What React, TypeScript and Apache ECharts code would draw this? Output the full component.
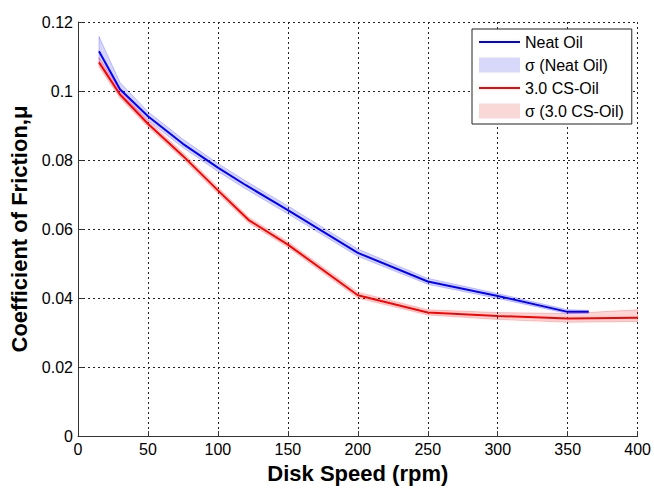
import React, { useEffect, useRef } from "react";
import * as echarts from "echarts";

// Disk speed (rpm) sample points
const neatX = [15, 30, 50, 75, 100, 120, 150, 200, 250, 300, 350, 365];
const neatMu = [0.1115, 0.1005, 0.0927, 0.0847, 0.0778, 0.0727, 0.0655, 0.0531, 0.0448, 0.0406, 0.036, 0.036];
const neatLo = [0.1085, 0.0992, 0.0915, 0.0836, 0.0767, 0.0716, 0.0644, 0.0521, 0.044, 0.0399, 0.0355, 0.0356];
const neatHi = [0.1158, 0.1025, 0.094, 0.086, 0.079, 0.0739, 0.0667, 0.0542, 0.0457, 0.0413, 0.0366, 0.0364];

const csX = [15, 30, 50, 75, 100, 122, 150, 200, 250, 300, 350, 400];
const csMu = [0.1083, 0.099, 0.0905, 0.0812, 0.0712, 0.0626, 0.0555, 0.0408, 0.0358, 0.0348, 0.0341, 0.0343];
const csLo = [0.107, 0.098, 0.0896, 0.0803, 0.0703, 0.0618, 0.0547, 0.04, 0.0351, 0.0338, 0.033, 0.0332];
const csHi = [0.1098, 0.1001, 0.0914, 0.0821, 0.0721, 0.0634, 0.0563, 0.0417, 0.0366, 0.0358, 0.0355, 0.0366];

const legendNames = ["Neat Oil", "σ (Neat Oil)", "3.0 CS-Oil", "σ (3.0 CS-Oil)"];

const FONT = "'Liberation Sans', Arial, sans-serif";
const LINE_ICON = "path://M0,0H41V2H0Z";

const pairs = (xs: number[], ys: number[]) => xs.map((x, i) => [x, ys[i]]);
const triples = (xs: number[], lo: number[], hi: number[]) => xs.map((x, i) => [x, lo[i], hi[i]]);

function bandSeries(name: string, xs: number[], lo: number[], hi: number[], fill: string, stroke: string) {
  return {
    name,
    type: "custom",
    data: triples(xs, lo, hi),
    encode: { x: 0, y: [1, 2] },
    itemStyle: { color: fill },
    z: 1,
    renderItem: (params: any, api: any) => {
      if (params.dataIndex !== 0) return null;
      const upper = xs.map((x, i) => api.coord([x, hi[i]]));
      const lower = xs.map((x, i) => api.coord([x, lo[i]])).reverse();
      return {
        type: "polygon",
        shape: { points: upper.concat(lower) },
        style: { fill, stroke, lineWidth: 1 },
      };
    },
  };
}

export default function App() {
  const ref = useRef<HTMLDivElement>(null);
  useEffect(() => {
    if (!ref.current) return;
    const chart = echarts.init(ref.current, undefined, { renderer: "svg" });
    const gridLine = { show: true, lineStyle: { color: "#222", type: [2, 3] as any, width: 1 } };
    chart.setOption({
      animation: false,
      backgroundColor: "#fff",
      grid: { left: 78, right: 16, top: 22, bottom: 46, containLabel: false },
      legend: {
        orient: "vertical",
        left: 472,
        top: 29,
        padding: [5, 8, 5, 7],
        itemWidth: 41,
        itemHeight: 15,
        itemGap: 7,
        backgroundColor: "#fff",
        borderColor: "#222",
        borderWidth: 1,
        borderRadius: 0,
        textStyle: { fontFamily: FONT, fontSize: 16, color: "#000", lineHeight: 16 },
        data: [
          { name: legendNames[0], icon: LINE_ICON, itemStyle: { color: "#0000ff", borderWidth: 0 } },
          { name: legendNames[1], icon: "rect", itemStyle: { color: "#d8d8fb", borderWidth: 0 } },
          { name: legendNames[2], icon: LINE_ICON, itemStyle: { color: "#ff0000", borderWidth: 0 } },
          { name: legendNames[3], icon: "rect", itemStyle: { color: "#fbd8d8", borderWidth: 0 } },
        ],
      },
      xAxis: {
        type: "value",
        min: 0,
        max: 400,
        interval: 50,
        name: "Disk Speed (rpm)",
        nameLocation: "middle",
        nameGap: 22,
        nameTextStyle: { fontFamily: FONT, fontSize: 22, fontWeight: "bold", color: "#000" },
        axisLine: { show: true, lineStyle: { color: "#333", width: 1 } },
        axisTick: { show: true, inside: true, length: 5, lineStyle: { color: "#333" } },
        axisLabel: { fontFamily: FONT, fontSize: 16, color: "#000", margin: 5 },
        splitLine: gridLine,
      },
      yAxis: {
        type: "value",
        min: 0,
        max: 0.12,
        interval: 0.02,
        name: "Coefficient of Friction,μ",
        nameLocation: "middle",
        nameRotate: 90,
        nameGap: 47,
        nameTextStyle: { fontFamily: FONT, fontSize: 22, fontWeight: "bold", color: "#000" },
        axisLine: { show: true, lineStyle: { color: "#333", width: 1 } },
        axisTick: { show: true, inside: true, length: 5, lineStyle: { color: "#333" } },
        axisLabel: { fontFamily: FONT, fontSize: 16, color: "#000", margin: 5 },
        splitLine: gridLine,
      },
      series: [
        bandSeries(legendNames[1], neatX, neatLo, neatHi, "rgba(0,0,255,0.16)", "rgba(0,0,255,0.22)"),
        bandSeries(legendNames[3], csX, csLo, csHi, "rgba(255,0,0,0.16)", "rgba(255,0,0,0.22)"),
        {
          name: legendNames[0],
          type: "line",
          symbol: "none",
          data: pairs(neatX, neatMu),
          itemStyle: { color: "#0000ff" },
          lineStyle: { color: "#0000ff", width: 2 },
          z: 3,
        },
        {
          name: legendNames[2],
          type: "line",
          symbol: "none",
          data: pairs(csX, csMu),
          itemStyle: { color: "#ff0000" },
          lineStyle: { color: "#ff0000", width: 2 },
          z: 3,
        },
      ],
    });
    return () => chart.dispose();
  }, []);
  return (
    <div
      ref={ref}
      style={{ position: "fixed", left: 0, top: 0, width: 654, height: 489, background: "#fff" }}
    />
  );
}
